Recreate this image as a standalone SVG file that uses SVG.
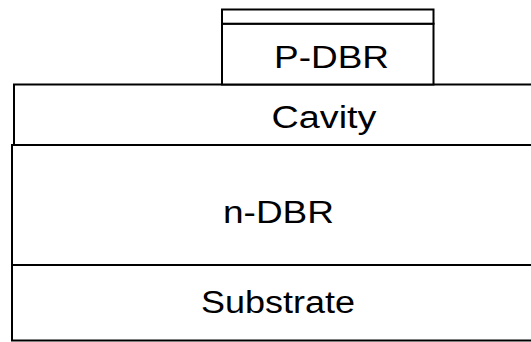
<svg xmlns="http://www.w3.org/2000/svg" width="531" height="342" viewBox="0 0 531 342">
  <style>
    .layer { fill: #ffffff; stroke: #000000; stroke-width: 2; }
    .label { font-family: "Liberation Sans", Arial, sans-serif; font-size: 31px; fill: #000000; text-anchor: middle; }
  </style>
  <rect width="531" height="342" fill="#ffffff"/>

  <!-- substrate at the bottom of the stack -->
  <g id="substrate">
    <rect class="layer" x="12" y="265" width="530" height="75.5"/>
    <text class="label" x="278" y="313.3" textLength="154" lengthAdjust="spacingAndGlyphs">Substrate</text>
  </g>

  <!-- bottom mirror -->
  <g id="n-dbr">
    <rect class="layer" x="12" y="145" width="530" height="120"/>
    <text class="label" x="278.5" y="223.3" textLength="111" lengthAdjust="spacingAndGlyphs">n-DBR</text>
  </g>

  <!-- active cavity -->
  <g id="cavity">
    <rect class="layer" x="14" y="84.5" width="530" height="60.5"/>
    <text class="label" x="324" y="128.3" textLength="105" lengthAdjust="spacingAndGlyphs">Cavity</text>
  </g>

  <!-- top mirror mesa -->
  <g id="p-dbr">
    <rect class="layer" x="222" y="23.7" width="211.5" height="60.8"/>
    <text class="label" x="331.5" y="68.3" textLength="115" lengthAdjust="spacingAndGlyphs">P-DBR</text>
  </g>

  <!-- contact layer on top of the mesa -->
  <g id="contact">
    <rect class="layer" x="222" y="9.5" width="211.5" height="14.2"/>
  </g>
</svg>
